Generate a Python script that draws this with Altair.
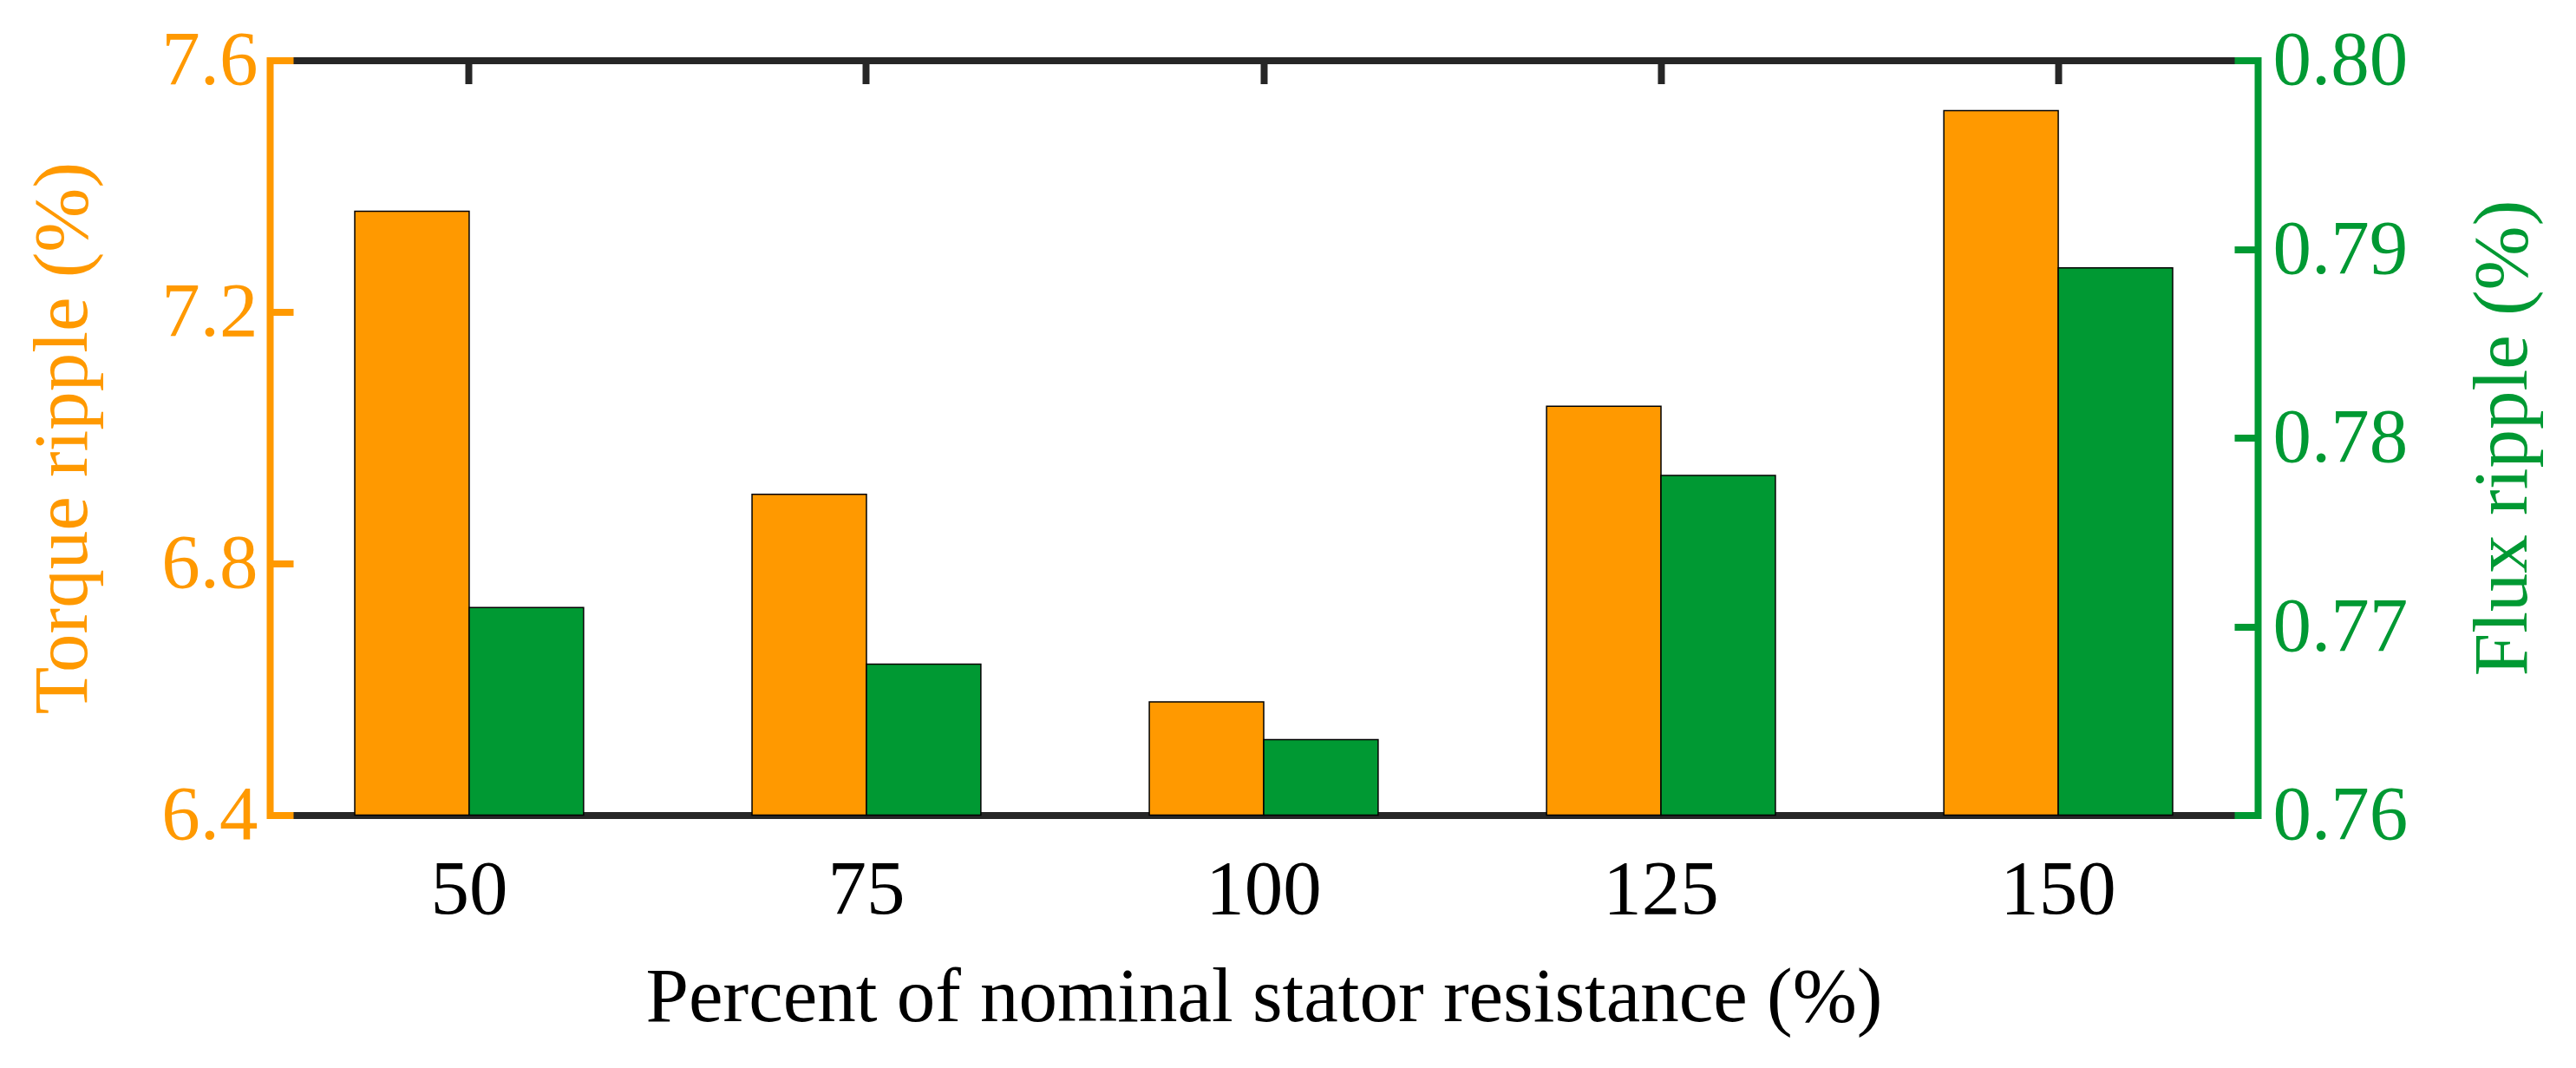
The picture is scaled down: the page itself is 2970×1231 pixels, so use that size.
import altair as alt
import pandas as pd

categories = ["50", "75", "100", "125", "150"]
torque_ripple = [7.36, 6.91, 6.58, 7.05, 7.52]
flux_ripple = [0.771, 0.768, 0.764, 0.778, 0.789]
series_names = ["Torque ripple", "Flux ripple"]
torque_ticks = [6.4, 6.8, 7.2, 7.6]
flux_ticks = [0.76, 0.77, 0.78, 0.79, 0.80]

ORANGE = "#FF9900"
GREEN = "#009933"
DARK = "#262626"
FONT = "Liberation Serif"
FS = 89

df_t = pd.DataFrame({"cat": categories, "series": series_names[0], "value": torque_ripple})
df_f = pd.DataFrame({"cat": categories, "series": series_names[1], "value": flux_ripple})

xscale = alt.Scale(domain=categories, paddingInner=0.424, paddingOuter=0.214)
offscale = alt.Scale(domain=series_names, paddingInner=0, paddingOuter=0)

bottom_axis = alt.Axis(
    orient="bottom", title="Percent of nominal stator resistance (%)",
    labelAngle=0, ticks=False, labelPadding=43, titlePadding=36,
    domainColor=DARK, domainWidth=8, labelColor="black", titleColor="black",
    labelFontSize=FS, titleFontSize=FS, titleFontWeight="normal", grid=False, zindex=0,
)
top_axis = alt.Axis(
    orient="top", title=None, labels=False, ticks=True,
    tickSize={"expr": "-27"}, tickWidth=8, tickColor=DARK,
    domainColor=DARK, domainWidth=8, grid=False, zindex=0,
)
left_axis = alt.Axis(
    orient="left", title="Torque ripple (%)", values=torque_ticks, format=".1f",
    domainColor=ORANGE, domainWidth=8, domainCap="square",
    tickColor=ORANGE, tickWidth=8, tickSize={"expr": "-27"},
    labelColor=ORANGE, titleColor=ORANGE, labelPadding=41, titlePadding=67,
    labelFontSize=FS, titleFontSize=FS, titleFontWeight="normal", grid=False, zindex=1,
)
right_axis = alt.Axis(
    orient="right", title="Flux ripple (%)", values=flux_ticks, format=".2f",
    domainColor=GREEN, domainWidth=8, domainCap="square",
    tickColor=GREEN, tickWidth=8, tickSize={"expr": "-27"},
    labelColor=GREEN, titleColor=GREEN, labelPadding=44, titlePadding=67,
    titleAngle=270, titleBaseline="top",
    labelFontSize=FS, titleFontSize=FS, titleFontWeight="normal", grid=False, zindex=1,
)

torque_layer = alt.Chart(df_t).mark_bar(color=ORANGE, stroke="black", strokeWidth=1.5).encode(
    x=alt.X("cat:N", sort=categories, scale=xscale, axis=bottom_axis),
    xOffset=alt.XOffset("series:N", sort=series_names, scale=offscale),
    y=alt.Y("value:Q", scale=alt.Scale(domain=[torque_ticks[0], torque_ticks[-1]], zero=False, nice=False), axis=left_axis),
    y2=alt.datum(torque_ticks[0]),
)
flux_layer = alt.Chart(df_f).mark_bar(color=GREEN, stroke="black", strokeWidth=1.5).encode(
    x=alt.X("cat:N", sort=categories, scale=xscale, axis=None),
    xOffset=alt.XOffset("series:N", sort=series_names, scale=offscale),
    y=alt.Y("value:Q", scale=alt.Scale(domain=[flux_ticks[0], flux_ticks[-1]], zero=False, nice=False), axis=right_axis),
    y2=alt.datum(flux_ticks[0]),
)
top_layer = alt.Chart(df_t).mark_point(opacity=0).encode(
    x=alt.X("cat:N", sort=categories, scale=xscale, axis=top_axis),
)

chart = (
    alt.layer(torque_layer, flux_layer, top_layer)
    .resolve_scale(y="independent")
    .resolve_axis(x="independent", y="independent")
    .properties(
        width=2292, height=870, autosize="none",
        padding={"left": 303, "top": 61.5, "right": 350, "bottom": 280},
    )
    .configure_axis(labelFont=FONT, titleFont=FONT)
    .configure_view(stroke=None)
)

chart.save("out.html", embed_options={"renderer": "svg", "actions": False})
